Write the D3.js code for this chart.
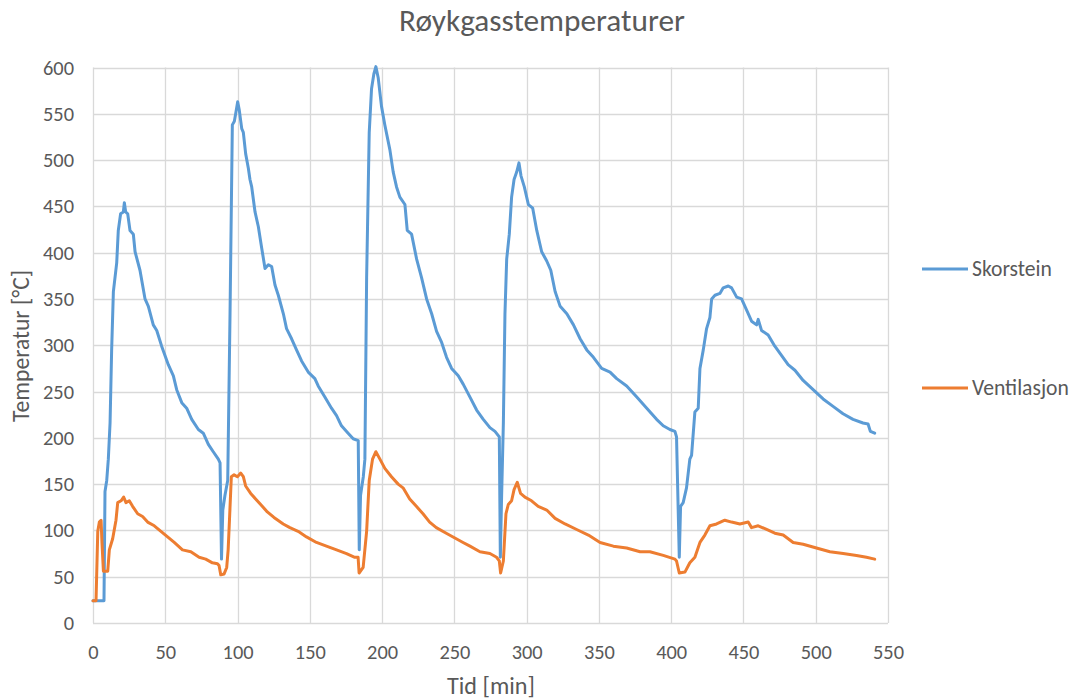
<!DOCTYPE html>
<html>
<head>
<meta charset="utf-8">
<script src="https://cdn.jsdelivr.net/npm/d3@7"></script>
<style>
  body { margin: 0; background: #fff; }
  text { font-family: Carlito, Lato, "Open Sans", sans-serif; fill: #595959; }
</style>
</head>
<body>
<script>
// chart data
var seriesNames = ['Skorstein', 'Ventilasjon'],
	seriesColors = ['#5B9BD5', '#ED7D31'],
	xTicks = [0, 50, 100, 150, 200, 250, 300, 350, 400, 450, 500, 550],
	yTicks = [0, 50, 100, 150, 200, 250, 300, 350, 400, 450, 500, 550, 600];

// Skorstein: [time (min), temperature (°C)]
var skorstein = [
	[0, 24], [7.6, 24], [8.3, 142], [9.5, 154], [10.6, 177], [11.8, 216], [12.9, 295], [14.1, 358],
	[16.4, 389], [17.5, 424], [19.1, 442], [21.0, 444], [21.7, 454], [22.6, 444], [24.0, 442],
	[25.6, 424], [27.9, 420], [29.1, 401], [32.5, 381], [36.0, 350], [38.3, 342], [41.7, 322],
	[44.1, 316], [47.5, 299], [52.1, 279], [55.6, 267], [57.9, 252], [61.4, 238], [64.8, 232],
	[68.3, 220], [72.9, 209], [76.3, 205], [79.8, 193], [83.2, 185], [86.7, 177], [87.9, 173],
	[88.9, 69], [89.8, 122], [91.3, 138], [93.2, 154], [94.8, 334], [96.4, 538], [97.8, 542],
	[98.7, 550], [100.1, 563], [101.2, 554], [102.9, 534], [104.0, 530], [105.6, 507], [107.5, 491],
	[108.6, 479], [109.8, 471], [112.1, 444], [114.4, 428], [116.7, 405], [119.0, 383], [121.3, 387],
	[123.6, 385], [125.9, 365], [128.2, 354], [131.7, 334], [133.9, 318], [137.4, 307], [140.8, 295],
	[144.3, 283], [148.9, 271], [153.5, 264], [155.8, 256], [160.4, 244], [165.0, 232], [168.5, 224],
	[171.9, 213], [176.5, 205], [180.0, 199], [183.5, 197], [184.2, 79], [185.1, 138], [187.0, 158],
	[188.1, 177], [189.3, 373], [191.1, 530], [192.7, 577], [194.3, 593], [195.7, 601], [197.3, 589],
	[199.6, 558], [201.9, 538], [205.4, 511], [207.7, 487], [210.0, 471], [212.3, 460], [215.8, 452],
	[217.4, 424], [220.4, 420], [223.9, 393], [227.3, 373], [230.8, 350], [234.3, 334], [237.7, 315],
	[241.2, 303], [244.6, 287], [248.1, 275], [252.7, 267], [256.1, 258], [260.8, 244], [265.4, 230],
	[270.0, 220], [274.6, 211], [278.1, 207], [281.1, 201], [281.8, 71], [282.7, 138], [283.9, 216],
	[285.0, 334], [286.2, 393], [288.0, 420], [289.6, 460], [291.3, 479], [293.1, 487], [294.7, 497],
	[296.1, 483], [298.4, 471], [301.2, 452], [304.2, 448], [307.0, 424], [310.4, 401], [313.9, 391],
	[316.7, 381], [319.7, 358], [323.2, 342], [327.8, 334], [332.4, 322], [337.0, 307], [341.6, 295],
	[346.2, 287], [351.9, 275], [357.7, 271], [362.3, 264], [369.2, 256], [376.2, 244], [383.1, 232],
	[389.9, 220], [394.5, 213], [399.1, 209], [402.6, 207], [403.7, 201], [405.6, 71], [406.5, 126],
	[408.3, 130], [410.6, 146], [412.9, 177], [414.1, 181], [416.4, 228], [418.7, 232], [419.9, 275],
	[422.2, 295], [424.5, 318], [426.8, 330], [428.0, 350], [430.3, 354], [433.7, 356], [436.0, 362],
	[439.5, 364], [441.8, 362], [445.3, 352], [448.7, 350], [452.2, 338], [455.6, 326], [459.1, 322],
	[460.2, 328], [462.5, 316], [467.1, 311], [471.7, 299], [476.3, 289], [480.9, 279], [485.6, 273],
	[491.3, 262], [498.2, 252], [505.1, 242], [512.0, 234], [518.9, 226], [525.8, 220], [532.7, 216],
	[536.2, 215], [537.8, 207], [540.8, 205]
];

// Ventilasjon: [time (min), temperature (°C)]
var ventilasjon = [
	[0, 24], [2.1, 24], [3.3, 99], [4.4, 109], [5.6, 111], [6.2, 87], [7.2, 56], [9.0, 56],
	[10.2, 56], [11.3, 79], [13.6, 91], [15.9, 111], [17.1, 130], [19.4, 132], [21.2, 136], [22.8, 130],
	[25.1, 132], [27.4, 126], [30.9, 118], [34.3, 115], [37.8, 109], [42.4, 105], [47.0, 99], [51.6, 93],
	[56.2, 87], [61.9, 79], [67.7, 77], [73.4, 71], [78.0, 69], [82.6, 65], [86.1, 64], [87.2, 62],
	[88.4, 52], [90.7, 53], [92.5, 60], [93.5, 79], [94.6, 118], [95.7, 158], [97.6, 160], [99.9, 158],
	[102.2, 162], [104.0, 158], [105.6, 148], [109.1, 140], [112.5, 134], [116.0, 128], [120.6, 120],
	[125.2, 114], [131.6, 107], [136.2, 103], [141.9, 99], [147.7, 93], [154.6, 87], [161.5, 83],
	[168.5, 79], [175.4, 75], [181.1, 71], [183.4, 71], [184.1, 54], [186.9, 60], [189.3, 99],
	[191.1, 154], [193.4, 177], [195.7, 185], [198.5, 177], [201.9, 167], [206.5, 158], [211.1, 150],
	[214.5, 146], [219.1, 134], [223.7, 126], [228.3, 118], [232.9, 109], [237.5, 103], [244.4, 97],
	[251.3, 91], [256.0, 87], [260.8, 83], [267.7, 77], [274.6, 75], [279.2, 71], [281.1, 67],
	[282.0, 54], [283.9, 67], [285.7, 118], [287.3, 128], [289.6, 132], [291.3, 144], [293.5, 152],
	[295.8, 140], [298.8, 136], [303.4, 132], [308.0, 126], [313.9, 122], [319.7, 113], [326.6, 107],
	[334.6, 101], [342.7, 95], [350.8, 87], [360.0, 83], [369.2, 81], [378.5, 77], [385.3, 77],
	[394.5, 73], [402.6, 69], [403.7, 67], [405.6, 54], [409.5, 55], [412.9, 65], [416.4, 71],
	[419.9, 87], [423.3, 95], [426.8, 105], [431.4, 107], [437.1, 111], [441.8, 109], [447.5, 107],
	[453.3, 109], [455.6, 103], [460.2, 105], [466.0, 101], [471.7, 97], [477.5, 95], [484.4, 87],
	[491.3, 85], [500.5, 81], [509.8, 77], [519.0, 75], [528.2, 73], [535.1, 71], [540.8, 69]
];

var allSeries = [skorstein, ventilasjon];

var width = 1073, height = 699,
	plot = { left: 93, right: 888, top: 67.5, bottom: 623 };

var svg = d3.select('body').append('svg')
	.attr('width', width)
	.attr('height', height);

var x = d3.scaleLinear().domain([0, 550]).range([plot.left, plot.right]);
var y = d3.scaleLinear().domain([0, 600]).range([plot.bottom, plot.top]);

// Scale a text's font size so that its rendered width is about w pixels
// (the reference uses Calibri, which is not installed).
function fit_width(sel, w) {
	sel.each(function() {
		var fs = parseFloat(d3.select(this).attr('font-size')) || 16;
		var len = this.getComputedTextLength();
		if (len > 0) d3.select(this).attr('font-size', fs * w / len);
	});
}

// gridlines
svg.append('g')
	.selectAll('line')
	.data(yTicks)
	.enter().append('line')
	.attr('x1', plot.left)
	.attr('x2', plot.right)
	.attr('y1', function(d) { return Math.round(y(d)) + 0.5; })
	.attr('y2', function(d) { return Math.round(y(d)) + 0.5; })
	.attr('stroke', '#d9d9d9')
	.attr('stroke-width', 1.3);

svg.append('g')
	.selectAll('line')
	.data(xTicks)
	.enter().append('line')
	.attr('x1', function(d) { return Math.round(x(d)) + 0.5; })
	.attr('x2', function(d) { return Math.round(x(d)) + 0.5; })
	.attr('y1', plot.top)
	.attr('y2', plot.bottom)
	.attr('stroke', '#d9d9d9')
	.attr('stroke-width', 1.3);

// axes (labels only, the gridlines act as the frame)
var gy = svg.append('g')
	.attr('transform', 'translate(' + plot.left + ',0)')
	.call(d3.axisLeft(y).tickValues(yTicks).tickSize(0).tickPadding(19));
gy.select('.domain').remove();
gy.selectAll('text')
	.attr('font-size', 20)
	.attr('fill', '#595959')
	.style('font-family', 'Carlito, Lato, "Open Sans", sans-serif');
// "400" is about 31 px wide in the reference; give every label the same size
var ySize = 20 * 31 / gy.selectAll('text').filter(function(d) { return d == 400; }).node().getComputedTextLength();
gy.selectAll('text').attr('font-size', ySize);

var gx = svg.append('g')
	.attr('transform', 'translate(0,' + plot.bottom + ')')
	.call(d3.axisBottom(x).tickValues(xTicks).tickSize(0));
gx.select('.domain').remove();
gx.selectAll('text')
	.attr('font-size', ySize)
	.attr('fill', '#595959')
	.attr('y', 36)
	.attr('dy', 0)
	.style('font-family', 'Carlito, Lato, "Open Sans", sans-serif');

// series lines
var line = d3.line()
	.x(function(d) { return x(d[0]); })
	.y(function(d) { return y(d[1]); });

svg.append('g')
	.selectAll('path')
	.data(allSeries)
	.enter().append('path')
	.attr('d', line)
	.attr('fill', 'none')
	.attr('stroke', function(d, i) { return seriesColors[i]; })
	.attr('stroke-width', 3)
	.attr('stroke-linejoin', 'round')
	.attr('stroke-linecap', 'round');

// title and axis titles
svg.append('text')
	.text('Røykgasstemperaturer')
	.attr('x', 542)
	.attr('y', 31)
	.attr('text-anchor', 'middle')
	.attr('font-size', 26)
	.call(fit_width, 286);

svg.append('text')
	.text('Tid [min]')
	.attr('x', 491)
	.attr('y', 694)
	.attr('text-anchor', 'middle')
	.attr('font-size', 20)
	.call(fit_width, 88);

svg.append('text')
	.text('Temperatur [°C]')
	.attr('transform', 'translate(29,346) rotate(-90)')
	.attr('text-anchor', 'middle')
	.attr('font-size', 20)
	.call(fit_width, 152);

// legend
var legendY = [269, 388];
var lg = svg.append('g')
	.selectAll('g')
	.data(seriesNames)
	.enter().append('g')
	.attr('transform', function(d, i) { return 'translate(922,' + legendY[i] + ')'; });

lg.append('line')
	.attr('x1', 0)
	.attr('x2', 46)
	.attr('stroke', function(d, i) { return seriesColors[i]; })
	.attr('stroke-width', 3);

lg.append('text')
	.text(function(d) { return d; })
	.attr('x', 50)
	.attr('y', 7)
	.attr('font-size', 18)
	.call(fit_width, 80);
// keep both legend labels at the same size
lg.selectAll('text').attr('font-size', lg.select('text').attr('font-size'));
</script>
</body>
</html>
